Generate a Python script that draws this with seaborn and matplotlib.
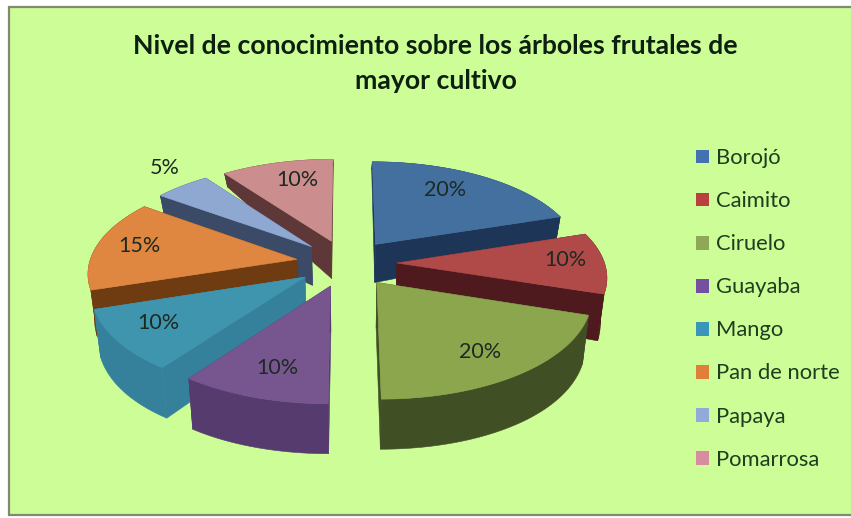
import numpy as np
import matplotlib
matplotlib.use("Agg")
import matplotlib.pyplot as plt
from matplotlib.patches import Patch, Rectangle
import seaborn as sns

title = "Nivel de conocimiento sobre los árboles frutales de\nmayor cultivo"
categories = ["Borojó", "Caimito", "Ciruelo", "Guayaba", "Mango", "Pan de norte", "Papaya", "Pomarrosa"]
values = [20, 10, 20, 10, 10, 15, 5, 10]
top_colors = ["#44709F", "#B04A49", "#8CA64E", "#77558F", "#3F95AE", "#DF8640", "#8FA8D2", "#CB8D8D"]
wall_colors = ["#1D3557", "#4F1A1E", "#414F24", "#553B6E", "#35809A", "#6F3C12", "#3B4A66", "#5E3838"]
legend_colors = ["#4472B0", "#B8403F", "#8FA858", "#7550A0", "#3A96B8", "#E08038", "#93AAD8", "#D88CA0"]
label_xy = [(445, 190), (565, 260), (480, 352), (277, 368), (158, 323), (139, 246), (165, 168), (297, 180)]

sns.set_theme(style="white")
plt.rcParams["font.family"] = ["Lato", "DejaVu Sans"]

W, H = 851, 518
fig = plt.figure(figsize=(W / 100, H / 100), dpi=100, facecolor="white")
ax = fig.add_axes([0, 0, 1, 1])
ax.set_xlim(0, W)
ax.set_ylim(H, 0)
ax.axis("off")
ax.add_patch(Rectangle((9, 6.5), 850, 508, facecolor="#CCFD96", edgecolor="#7F8A70", linewidth=1.6, zorder=0))

# projection of the exploded pie
CX, CY, A, B, K, EXPL, SHRINK = 346.5, 263, 207.5, 97, 0.123, 0.243, 0.975


def project(x, y):
    f = 1 + K * y
    return CX + A * x / f, CY - B * y / f


def depth(y):
    return 42 - 17.8 * y - 9.2 * y ** 2


def lower(x, y):
    sx, sy = project(x, y)
    return CX + (sx - CX) * SHRINK, sy + depth(y)


total = sum(values)
shares = np.cumsum([0] + values) / total * 2 * np.pi
slices = []
for i in range(len(values)):
    a0, a1 = shares[i], shares[i + 1]
    mid = (a0 + a1) / 2
    ox, oy = EXPL * np.sin(mid), EXPL * np.cos(mid)
    t = np.linspace(a0, a1, 60)
    slices.append((oy, i, ox, oy, ox + np.sin(t), oy + np.cos(t)))

# painter's order: from the back of the pie to the front
z = 2
for _, i, ox, oy, ax_x, ax_y in sorted(slices, key=lambda s: -s[0]):
    wall = wall_colors[i]
    tx, ty = project(ax_x, ax_y)
    bx, by = lower(ax_x, ax_y)
    ptx, pty = project(ox, oy)
    pbx, pby = lower(ox, oy)
    for j in (0, -1):
        ax.fill([ptx, tx[j], bx[j], pbx], [pty, ty[j], by[j], pby], color=wall, lw=0.4, zorder=z)
    ax.fill(np.r_[tx, bx[::-1]], np.r_[ty, by[::-1]], color=wall, lw=0.4, zorder=z)
    ax.fill(np.r_[ptx, tx], np.r_[pty, ty], color=top_colors[i], lw=0.4, zorder=z + 0.5)
    z += 1

for v, (lx, ly) in zip(values, label_xy):
    ax.text(lx, ly, f"{v}%", ha="center", va="center", fontsize=15.5, color="#1C2A22", zorder=50)

ax.text(435.5, 63.5, title, ha="center", va="center", fontsize=19.2, fontweight="bold",
        color="#0C1F10", linespacing=1.55, zorder=50)

handles = [Patch(facecolor=c, edgecolor="none") for c in legend_colors]
leg = ax.legend(handles, categories, loc="upper left", bbox_to_anchor=(687, 139.5),
                bbox_transform=ax.transData, frameon=False, fontsize=15.8,
                labelspacing=1.05, handlelength=0.59, handleheight=0.59, handletextpad=0.32,
                labelcolor="#1F3D1F", borderaxespad=0, borderpad=0.4)
leg.set_zorder(50)

fig.savefig("out.png", dpi=100, facecolor="white")
